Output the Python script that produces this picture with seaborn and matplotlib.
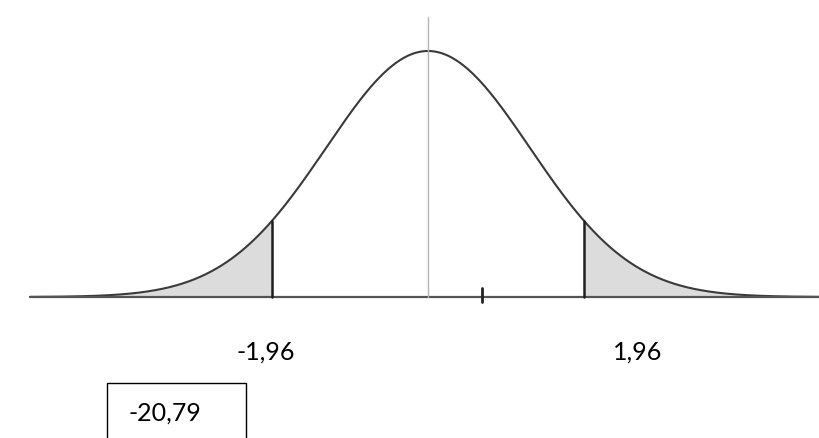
import numpy as np
import pandas as pd
import matplotlib.pyplot as plt
import matplotlib.patches as mpatches
import seaborn as sns

# ---------- data ----------
curve_mean = 0.0
curve_sd = 1.28              # spread of the drawn bell (in label units)
critical_values = [-1.96, 1.96]
critical_labels = ['-1,96', '1,96']
test_statistic_label = '-20,79'
axis_start, axis_end = -5.0, 4.91
mark_x = 0.68                # little tick mark on the axis

# ---------- style ----------
sns.set_theme(style='white')
plt.rcParams['font.family'] = ['Lato', 'DejaVu Sans']

curve_color = '#3a3a3a'
shade_color = '#dcdcdc'

z = np.linspace(axis_start, axis_end, 800)
pdf = np.exp(-0.5 * ((z - curve_mean) / curve_sd) ** 2) / (curve_sd * np.sqrt(2 * np.pi))
df = pd.DataFrame({'z': z, 'density': pdf})
peak = pdf.max()

fig = plt.figure(figsize=(8.19, 4.39), dpi=100)
ax = fig.add_axes([0, 0, 1, 1])

# shaded rejection regions
lo, hi = critical_values
ax.fill_between(z, 0, pdf, where=z <= lo, color=shade_color, lw=0)
ax.fill_between(z, 0, pdf, where=z >= hi, color=shade_color, lw=0)

sns.lineplot(data=df, x='z', y='density', ax=ax, color=curve_color, lw=1.5)

# baseline and centre line
ax.plot([axis_start, axis_end + 1], [0, 0], color='#555555', lw=1.6)
ax.plot([curve_mean, curve_mean], [0, peak * 1.14], color='#b5b5b5', lw=1.0)

# critical value lines
for c in critical_values:
    h = np.exp(-0.5 * ((c - curve_mean) / curve_sd) ** 2) / (curve_sd * np.sqrt(2 * np.pi))
    ax.plot([c, c], [0, h], color='#1e1e1e', lw=1.8)

ax.plot([mark_x, mark_x], [-0.02 * peak, 0.035 * peak], color='#222222', lw=2)

# pixel-aligned limits: centre at x=428, baseline at y=298, peak at y=52
px_per_unit = 79.6
ax.set_xlim(-428 / px_per_unit, (819 - 428) / px_per_unit)
ax.set_ylim(-141 / 246 * peak, 298 / 246 * peak)
ax.axis('off')

# labels below the curve
fig.text(266 / 819, 1 - 352 / 439, critical_labels[0], ha='center', va='center', fontsize=18, color='black')
fig.text(638 / 819, 1 - 352 / 439, critical_labels[1], ha='center', va='center', fontsize=18, color='black')

box = mpatches.Rectangle((107 / 819, -0.05), (246 - 107) / 819, (439 - 384) / 439 + 0.05,
                         transform=fig.transFigure, fill=False, edgecolor='black', lw=1.0)
fig.patches.append(box)
fig.text(128 / 819, 1 - 413 / 439, test_statistic_label, ha='left', va='center', fontsize=18, color='black')

fig.savefig('out.png', dpi=100)
